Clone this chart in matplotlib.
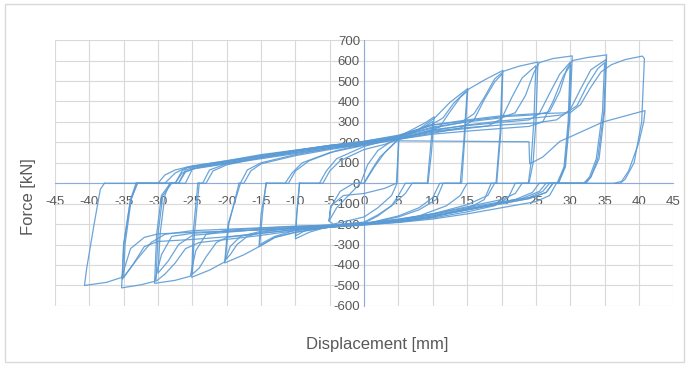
import matplotlib
matplotlib.use("Agg")
import matplotlib.pyplot as plt
from matplotlib import font_manager
from matplotlib.patches import Rectangle

# ------------------------------------------------------------
# Hysteresis loops, one cycle per pair
# (displacement in mm, force in kN), in test order.
# ------------------------------------------------------------
D01 = [0.0, 1.0, 2.3, 3.7, 5.0, 4.9, 4.7, 3.0, 0.0, -3.0, -4.8, -5.1, -4.9, -3.5, -1.5, 0.0]
F01 = [0, 60, 128, 172, 215, 120, 0, -25, -50, -60, -110, -185, -120, -40, 0, 0]

D02 = [0.0, 1.5, 3.0, 4.5, 5.1, 4.9, 4.8, 4.0, 2.0, 0.0, -2.5, -4.5, -5.1, -4.0, -2.0, -0.5]
F02 = [0, 80, 150, 200, 232, 100, 0, -60, -120, -165, -185, -200, -185, -120, -50, 0]

D03 = [-0.5, 0.5, 2.0, 5.0, 7.0, 9.0, 10.2, 9.8, 9.3, 6.0, 5.0, 4.0, 2.0, 0.0, -3.0, -6.0, -8.0, -10.0, -9.8, -9.4]
F03 = [0, 90, 160, 228, 262, 298, 325, 150, 0, 0, -60, -110, -160, -195, -205, -220, -240, -272, -150, 0]

D04 = [-9.4, -6.0, -5.0, -3.5, 0.0, 3.0, 5.0, 7.0, 8.5, 10.0, 9.6, 9.2, 7.0, 6.0, 4.0, 2.0, 0.0, -3.0, -6.0, -8.5, -10.0, -9.8, -9.4]
F04 = [0, 0, 60, 110, 165, 190, 215, 245, 270, 302, 150, 0, 0, -50, -110, -155, -190, -200, -210, -230, -258, -150, 0]

D05 = [-9.4, -6.5, -5.5, -4.0, 0.0, 5.0, 8.0, 10.3, 12.5, 15.1, 14.6, 14.2, 11.0, 10.0, 8.0, 5.0, 0.0, -5.0, -10.0, -13.0, -15.3, -15.0, -14.2]
F05 = [0, 0, 60, 120, 180, 225, 265, 320, 396, 464, 200, 0, 0, -70, -120, -160, -200, -215, -240, -265, -310, -150, 0]

D06 = [-14.2, -11.5, -10.5, -9.0, -5.0, 0.0, 5.0, 8.0, 11.0, 12.5, 14.0, 15.0, 14.5, 14.0, 11.5, 10.5, 8.0, 5.0, 0.0, -5.0, -10.0, -13.0, -15.2, -14.8, -14.3]
F06 = [0, 0, 50, 100, 150, 185, 215, 240, 275, 350, 420, 450, 200, 0, 0, -80, -130, -165, -200, -210, -230, -260, -300, -150, 0]

D07 = [-14.3, -11.0, -10.0, -8.0, -4.0, 0.0, 5.0, 10.0, 11.5, 13.0, 14.5, 15.4, 17.5, 20.2, 19.9, 19.3, 15.0, 14.0, 12.0, 8.0, 4.0, 0.0, -5.0, -10.0, -13.0, -15.0, -17.5, -20.3, -19.8, -18.0]
F07 = [0, 0, 60, 110, 160, 190, 228, 290, 320, 390, 440, 464, 505, 552, 250, 0, 0, -60, -110, -160, -185, -200, -215, -240, -265, -305, -350, -390, -200, 0]

D08 = [-18.0, -17.5, -16.5, -15.0, -10.0, -5.0, 0.0, 5.0, 10.0, 14.0, 16.0, 17.5, 19.0, 20.1, 19.8, 19.2, 18.5, 17.5, 15.0, 10.0, 5.0, 0.0, -5.0, -10.0, -15.0, -17.0, -18.5, -19.5, -20.2, -19.7, -18.2]
F08 = [0, 0, 60, 95, 135, 165, 190, 215, 245, 270, 310, 410, 495, 535, 250, 0, 0, -80, -125, -165, -188, -200, -205, -215, -240, -260, -300, -350, -375, -200, 0]

D09 = [-18.2, -18.0, -17.0, -15.0, -10.0, -5.0, 0.0, 5.0, 10.0, 14.0, 16.0, 17.5, 19.0, 20.3, 22.5, 25.3, 25.0, 24.6, 24.0, 19.0, 18.0, 15.0, 10.0, 5.0, 0.0, -5.0, -10.0, -15.0, -18.0, -19.5, -20.3, -22.5, -25.1, -24.9, -24.2]
F09 = [0, 0, 65, 100, 140, 170, 195, 228, 270, 295, 340, 420, 510, 548, 572, 593, 300, 100, 0, 0, -60, -105, -150, -180, -200, -210, -220, -235, -260, -310, -385, -425, -460, -250, 0]

D10 = [-24.2, -23.0, -22.0, -20.0, -15.0, -10.0, -5.0, 0.0, 5.0, 10.0, 15.0, 18.0, 20.0, 21.5, 23.0, 25.0, 24.7, 24.3, 23.9, 22.0, 21.0, 19.0, 15.0, 10.0, 5.0, 0.0, -5.0, -10.0, -15.0, -20.0, -21.5, -23.0, -24.0, -25.0, -24.7, -24.0]
F10 = [0, 0, 60, 90, 125, 150, 175, 195, 220, 250, 268, 280, 315, 420, 515, 575, 300, 100, 0, 0, -70, -110, -140, -170, -190, -200, -212, -225, -245, -265, -290, -360, -415, -445, -250, 0]

D11 = [-24.0, -23.5, -22.5, -20.0, -15.0, -10.0, -5.0, 0.0, 5.0, 10.0, 15.0, 20.0, 22.0, 23.5, 24.7, 25.5, 27.5, 30.3, 29.9, 29.3, 28.3, 23.0, 22.0, 20.0, 15.0, 10.0, 5.0, 0.0, -5.0, -10.0, -15.0, -20.0, -23.0, -24.5, -25.3, -27.5, -30.5, -30.2, -29.5, -28.2]
F11 = [0, 0, 65, 95, 125, 155, 180, 200, 230, 275, 300, 320, 345, 430, 540, 590, 610, 623, 300, 80, 0, 0, -50, -80, -115, -150, -178, -195, -205, -212, -220, -230, -250, -330, -455, -475, -490, -250, -60, 0]

D12 = [-28.2, -26.0, -25.0, -20.0, -15.0, -10.0, -5.0, 0.0, 5.0, 10.0, 15.0, 20.0, 24.0, 25.5, 27.0, 28.5, 30.0, 29.7, 29.1, 28.1, 25.5, 24.5, 22.0, 20.0, 15.0, 10.0, 5.0, 0.0, -5.0, -10.0, -15.0, -20.0, -24.0, -26.0, -27.5, -29.0, -30.3, -30.0, -29.3, -28.0]
F12 = [0, 0, 70, 100, 130, 158, 182, 200, 225, 262, 282, 298, 310, 340, 440, 535, 592, 300, 80, 0, 0, -45, -80, -95, -130, -160, -185, -200, -215, -232, -255, -275, -290, -320, -390, -445, -480, -250, -60, 0]

D13 = [-28.0, -27.0, -26.0, -24.0, -20.0, -15.0, -10.0, -5.0, 0.0, 5.0, 10.0, 15.0, 20.0, 24.0, 26.0, 27.5, 29.0, 30.1, 29.8, 29.2, 28.2, 26.5, 25.5, 23.0, 20.0, 15.0, 10.0, 5.0, 0.0, -5.0, -10.0, -15.0, -20.0, -25.0, -27.0, -28.5, -30.0, -29.7, -29.0, -28.3]
F13 = [0, 0, 65, 85, 105, 135, 160, 183, 198, 215, 240, 255, 268, 278, 300, 400, 525, 580, 300, 80, 0, 0, -40, -75, -95, -125, -155, -180, -198, -207, -215, -225, -240, -255, -300, -380, -440, -250, -60, 0]

D14 = [-28.3, -27.5, -26.5, -25.8, -20.0, -15.0, -10.0, -5.0, 0.0, 5.0, 10.0, 15.0, 20.0, 25.0, 27.0, 28.5, 29.5, 30.3, 32.5, 35.3, 35.0, 34.2, 33.0, 32.0, 27.5, 26.5, 24.0, 20.0, 15.0, 10.0, 5.0, 0.0, -5.0, -10.0, -15.0, -20.0, -25.0, -28.0, -29.5, -30.5, -32.5, -35.3, -35.0, -34.0, -33.0]
F14 = [0, 0, 60, 75, 105, 135, 160, 185, 205, 232, 285, 305, 325, 335, 350, 450, 560, 600, 615, 628, 350, 120, 30, 0, 0, -45, -75, -100, -130, -165, -190, -205, -215, -222, -228, -235, -245, -260, -350, -480, -497, -512, -300, -80, 0]

D15 = [-33.0, -27.0, -26.0, -24.0, -20.0, -15.0, -10.0, -5.0, 0.0, 5.0, 10.0, 15.0, 20.0, 25.0, 28.0, 30.0, 31.5, 33.0, 35.2, 34.9, 34.0, 33.0, 32.3, 28.0, 27.0, 25.0, 20.0, 15.0, 10.0, 5.0, 0.0, -5.0, -10.0, -15.0, -20.0, -25.0, -30.0, -32.0, -33.5, -35.2, -35.0, -34.0, -33.2]
F15 = [0, 0, 55, 80, 100, 125, 150, 175, 195, 220, 255, 272, 285, 295, 310, 360, 460, 555, 605, 350, 120, 30, 0, 0, -60, -90, -120, -150, -175, -192, -203, -215, -228, -245, -262, -275, -285, -310, -390, -470, -300, -80, 0]

D16 = [-33.2, -27.5, -26.5, -25.0, -20.0, -15.0, -10.0, -5.0, 0.0, 5.0, 10.0, 15.0, 20.0, 25.0, 29.0, 31.0, 32.5, 34.0, 35.0, 34.7, 33.8, 32.8, 32.0, 27.0, 26.0, 24.0, 20.0, 15.0, 10.0, 5.0, 0.0, -5.0, -10.0, -15.0, -20.0, -25.0, -29.0, -31.0, -33.0, -35.0, -34.8, -33.9, -33.0]
F16 = [0, 0, 50, 70, 95, 120, 145, 170, 190, 218, 258, 285, 305, 320, 335, 380, 480, 560, 590, 350, 120, 30, 0, 0, -40, -70, -90, -120, -150, -175, -195, -205, -210, -218, -225, -232, -250, -290, -370, -460, -300, -80, 0]

D17 = [-33.0, -30.0, -29.0, -27.5, -25.0, -20.0, -15.0, -10.0, -5.0, 0.0, 5.0, 10.0, 15.0, 20.0, 25.0, 30.0, 31.5, 33.0, 34.5, 36.0, 38.0, 40.5, 40.8, 40.4, 39.3, 38.0, 37.3, 27.5, 26.5, 24.0, 20.0, 15.0, 10.0, 5.0, 0.0, -5.0, -10.0, -15.0, -20.0, -25.0, -30.0, -32.0, -34.0, -35.3, -37.5, -40.7, -40.4, -39.3, -38.4, -37.8]
F17 = [0, 0, 40, 65, 85, 110, 135, 160, 185, 205, 235, 285, 310, 330, 340, 345, 385, 470, 545, 580, 605, 622, 610, 300, 100, 20, 0, 0, -45, -75, -100, -130, -160, -185, -200, -212, -220, -228, -235, -240, -248, -265, -320, -461, -485, -500, -420, -200, -30, 0]

D18 = [-37.8, -29.0, -27.5, -25.8, -20.0, -15.0, -10.0, -5.0, 0.0, 2.8, 15.0, 24.0, 24.1, 26.0, 28.5, 30.0, 34.8, 40.5, 40.9, 40.7, 40.0, 38.5, 37.5, 36.5]
F18 = [0, 0, 50, 78, 110, 140, 162, 185, 203, 208, 205, 203, 95, 128, 205, 227, 300, 352, 355, 300, 200, 60, 10, 0]

CYCLES = [
    (D01, F01), (D02, F02), (D03, F03), (D04, F04), (D05, F05), (D06, F06),
    (D07, F07), (D08, F08), (D09, F09), (D10, F10), (D11, F11), (D12, F12),
    (D13, F13), (D14, F14), (D15, F15), (D16, F16), (D17, F17), (D18, F18),
]

X_TICKS = list(range(-45, 50, 5))
Y_TICKS = list(range(-600, 800, 100))
X_LABEL = "Displacement [mm]"
Y_LABEL = "Force [kN]"

# ------------------------------------------------------------
# Style
# ------------------------------------------------------------
LINE_COLOR = "#5b9bd5"
GRID_COLOR = "#d9d9d9"
AXIS_COLOR = "#8faadc"
TEXT_COLOR = "#595959"

names = {f.name for f in font_manager.fontManager.ttflist}
FONT = "Liberation Sans Narrow" if "Liberation Sans Narrow" in names else "Liberation Sans"
plt.rcParams["font.family"] = [FONT, "DejaVu Sans"]


def main() -> None:
    fig = plt.figure(figsize=(6.87, 3.65), dpi=100)
    ax = fig.add_axes([0.080, 0.162, 0.900, 0.728])

    for i, (d, f) in enumerate(CYCLES):
        assert len(d) == len(f), f"cycle {i + 1}: {len(d)} vs {len(f)}"
        ax.plot(d, f, color=LINE_COLOR, lw=0.9, alpha=0.9, solid_joinstyle="round", zorder=3)

    ax.set_xlim(-45, 45)
    ax.set_ylim(-600, 700)
    ax.set_xticks(X_TICKS)
    ax.set_yticks(Y_TICKS)
    ax.set_xticklabels([str(v) for v in X_TICKS])
    ax.set_yticklabels([str(v) for v in Y_TICKS])

    ax.set_axisbelow(True)
    ax.grid(True, color=GRID_COLOR, lw=0.8)
    for line in ax.get_xgridlines() + ax.get_ygridlines():
        line.set_clip_on(False)

    ax.spines["left"].set_position(("data", 0))
    ax.spines["bottom"].set_position(("data", 0))
    ax.spines["left"].set_color(AXIS_COLOR)
    ax.spines["bottom"].set_color(AXIS_COLOR)
    ax.spines["left"].set_linewidth(0.8)
    ax.spines["bottom"].set_linewidth(0.8)
    ax.spines["top"].set_visible(False)
    ax.spines["right"].set_visible(False)

    ax.tick_params(axis="x", length=0, pad=9, labelsize=9.5, labelcolor=TEXT_COLOR)
    ax.tick_params(axis="y", length=0, pad=3, labelsize=9.5, labelcolor=TEXT_COLOR)
    ax.set_facecolor("white")

    fig.text(0.041, 0.46, Y_LABEL, rotation=90, ha="center", va="center",
             fontsize=12, color=TEXT_COLOR)
    fig.text(0.549, 0.055, X_LABEL, ha="center", va="center",
             fontsize=12, color=TEXT_COLOR)

    fig.patches.append(Rectangle((0.007, 0.008), 0.988, 0.982, transform=fig.transFigure,
                                 fill=False, edgecolor=GRID_COLOR, lw=1.0))

    fig.savefig("out.png", dpi=100, facecolor="white")
    plt.close(fig)


if __name__ == "__main__":
    main()
